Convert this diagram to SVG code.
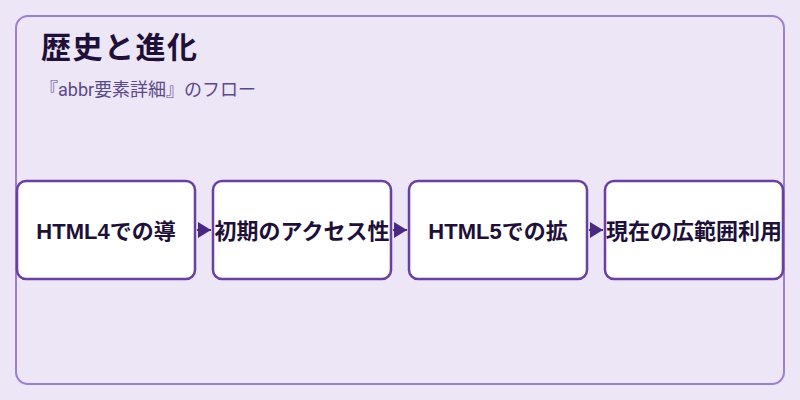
<svg xmlns="http://www.w3.org/2000/svg" width="800" height="400" viewBox="0 0 800 400">
<style>
.node rect{fill:#ffffff;stroke:#6b3fa0;stroke-width:2.5}
.node text{font-family:"Liberation Sans","Noto Sans CJK JP",sans-serif;font-size:22px;font-weight:bold;fill:#1e1038;text-anchor:middle;dominant-baseline:central}
.edge{stroke:#4a2a80;stroke-width:2;fill:none}
</style>
<defs>
<marker id="arr" viewBox="0 0 10 10" refX="10" refY="5" markerWidth="13" markerHeight="16" markerUnits="userSpaceOnUse" orient="auto" preserveAspectRatio="none">
<path d="M0,0 L10,5 L0,10 Z" fill="#4a2a80"/>
</marker>
</defs>
<rect x="0" y="0" width="800" height="400" fill="#ede6f6"/>
<rect x="16" y="16" width="768" height="368" rx="12" fill="#ede6f6" stroke="#9b7fd0" stroke-width="2"/>
<text x="41" y="58" font-family="Liberation Sans,Noto Sans CJK JP,sans-serif" font-size="30" font-weight="bold" letter-spacing="1.5" fill="#1e1038">歴史と進化</text>
<text x="40" y="96" font-family="Roboto,Noto Sans CJK JP,sans-serif" font-size="18" fill="#5a4a8a">『abbr要素詳細』のフロー</text>
<g id="connectors">
<line class="edge" x1="197" y1="230" x2="211" y2="230" marker-end="url(#arr)"/>
<line class="edge" x1="393" y1="230" x2="407" y2="230" marker-end="url(#arr)"/>
<line class="edge" x1="589" y1="230" x2="603" y2="230" marker-end="url(#arr)"/>
</g>
<g id="node1" class="node"><rect x="17" y="181" width="178" height="98" rx="9"/><text x="106" y="231">HTML4での導</text></g>
<g id="node2" class="node"><rect x="213" y="181" width="178" height="98" rx="9"/><text x="302" y="231">初期のアクセス性</text></g>
<g id="node3" class="node"><rect x="409" y="181" width="178" height="98" rx="9"/><text x="498" y="231">HTML5での拡</text></g>
<g id="node4" class="node"><rect x="605" y="181" width="178" height="98" rx="9"/><text x="694" y="231">現在の広範囲利用</text></g>
</svg>
